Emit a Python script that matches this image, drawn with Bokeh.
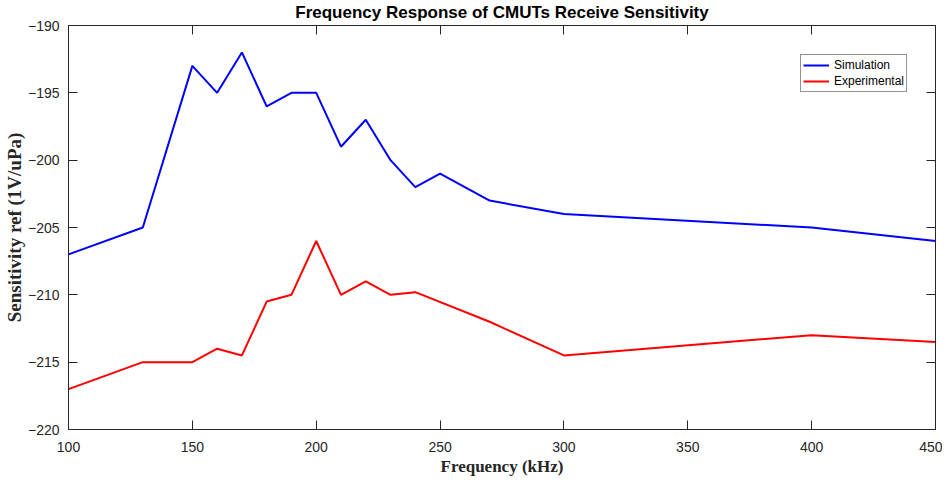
from bokeh.plotting import figure
from bokeh.models import LinearAxis, Range1d, SingleIntervalTicker, Legend, LegendItem, CustomJSTickFormatter
from bokeh.embed import file_html
from bokeh.resources import INLINE

freq_sim = [100, 130, 150, 160, 170, 180, 190, 200, 210, 220, 230, 240, 250, 270, 300, 400, 450]
sens_sim = [-207, -205, -193, -195, -192, -196, -195, -195, -199, -197, -200, -202, -201, -203, -204, -205, -206]

freq_exp = [100, 130, 150, 160, 170, 180, 190, 200, 210, 220, 230, 240, 270, 300, 400, 450]
sens_exp = [-217, -215, -215, -214, -214.5, -210.5, -210, -206, -210, -209, -210, -209.8, -212, -214.5, -213, -213.5]

title_text = "Frequency Response of CMUTs Receive Sensitivity"
x_label = "Frequency (kHz)"
y_label = "Sensitivity ref (1V/uPa)"

AX = "#262626"

p = figure(frame_width=867, frame_height=404, output_backend="svg", toolbar_location=None,
           x_range=Range1d(100, 450), y_range=Range1d(-220, -190),
           min_border_left=60, min_border_right=7, min_border_top=23, min_border_bottom=39,
           x_axis_type=None, y_axis_type=None)

p.title.text = title_text
p.title.align = "center"
p.title.text_font = "Liberation Sans"
p.title.text_font_size = "17px"
p.title.text_font_style = "bold"
p.title.text_color = "black"
p.title.standoff = 0
p.title.offset = 0

p.xgrid.visible = False
p.ygrid.visible = False
p.outline_line_color = AX
p.outline_line_width = 1
p.outline_line_alpha = 1
p.background_fill_color = "white"
p.border_fill_color = "white"

def style(ax, labels=True):
    ax.axis_line_color = AX
    ax.major_tick_line_color = AX
    ax.major_tick_in = 9
    ax.major_tick_out = 0
    ax.minor_tick_line_color = None
    ax.major_label_text_font = "Liberation Sans"
    ax.major_label_text_font_size = "14px" if labels else "0px"
    ax.major_label_text_color = AX
    ax.axis_label_text_font = "Liberation Serif"
    ax.axis_label_text_font_size = "17px"
    ax.axis_label_text_font_style = "bold"
    ax.axis_label_text_color = AX
    if not labels:
        ax.major_label_standoff = 0
        ax.axis_label_standoff = 0
        ax.formatter = CustomJSTickFormatter(code="return ''")

xb = LinearAxis(ticker=SingleIntervalTicker(interval=50), axis_label=x_label)
style(xb)
xb.major_label_standoff = 8
xb.axis_label_standoff = 2
p.add_layout(xb, "below")

yl = LinearAxis(ticker=SingleIntervalTicker(interval=5), axis_label=y_label)
style(yl)
yl.axis_label_text_font_size = "19px"
yl.major_label_standoff = 5
yl.axis_label_standoff = 0
p.add_layout(yl, "left")

xt = LinearAxis(ticker=SingleIntervalTicker(interval=50))
style(xt, labels=False)
p.add_layout(xt, "above")

yr = LinearAxis(ticker=SingleIntervalTicker(interval=5))
style(yr, labels=False)
p.add_layout(yr, "right")

r1 = p.line(freq_sim, sens_sim, line_color="#0000ff", line_width=2)
r2 = p.line(freq_exp, sens_exp, line_color="#ff0000", line_width=2)

legend = Legend(items=[LegendItem(label="Simulation", renderers=[r1]),
                       LegendItem(label="Experimental", renderers=[r2])],
                location=(732, 337))
legend.label_text_font = "Liberation Sans"
legend.label_text_font_size = "12px"
legend.label_text_color = "black"
legend.label_height = 16
legend.glyph_height = 16
legend.glyph_width = 26
legend.label_standoff = 5
legend.spacing = 0
legend.padding = 2
legend.margin = 0
legend.border_line_color = AX
legend.border_line_width = 1
legend.background_fill_color = "white"
p.add_layout(legend, "center")

open("out.html", "w").write(file_html(p, INLINE))
